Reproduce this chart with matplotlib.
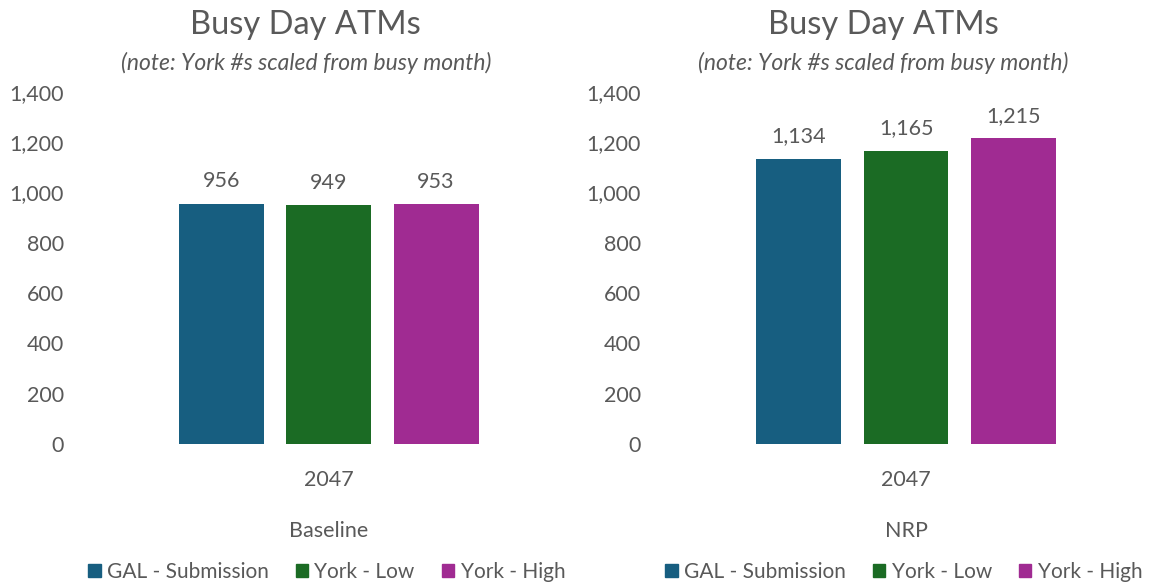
import matplotlib
matplotlib.use("Agg")
import matplotlib.pyplot as plt
from matplotlib.patches import Patch
from matplotlib.ticker import FuncFormatter

plt.rcParams['font.family'] = ['Lato', 'DejaVu Sans']

series = ['GAL - Submission', 'York - Low', 'York - High']
colors = ['#175E80', '#1B6B24', '#A02B92']
panels = ['Baseline', 'NRP']
year = '2047'
values = {
    'Baseline': [956, 949, 953],
    'NRP': [1134, 1165, 1215],
}

grey = '#595959'
fig = plt.figure(figsize=(11.52, 5.85), dpi=100)

lefts = [0.065, 0.566]
for left, panel in zip(lefts, panels):
    ax = fig.add_axes([left, 0.241, 0.441, 0.602])
    offs = [-0.211, 0, 0.211]
    for off, v, c in zip(offs, values[panel], colors):
        ax.bar(off, v, width=0.167, color=c)
        ax.text(off, v + 50, f'{v:,}', ha='center', va='bottom', fontsize=15.5, color=grey)
    ax.set_xlim(-0.5, 0.5)
    ax.set_ylim(0, 1400)
    ax.set_yticks(range(0, 1401, 200))
    ax.yaxis.set_major_formatter(FuncFormatter(lambda x, p: f'{int(x):,}'))
    ax.set_xticks([0])
    ax.set_xticklabels([year])
    ax.tick_params(axis='both', length=0, labelsize=15.5, labelcolor=grey)
    ax.tick_params(axis='x', pad=19)
    ax.tick_params(axis='y', pad=8)
    for s in ax.spines.values():
        s.set_visible(False)
    ax.set_xlabel(panel, fontsize=15.5, color=grey, labelpad=22)
    cx = left + 0.441 / 2
    tx = cx - 0.02
    fig.text(tx, 0.957, 'Busy Day ATMs', ha='center', va='center', fontsize=23.5, color=grey)
    fig.text(tx, 0.893, '(note: York #s scaled from busy month)', ha='center', va='center',
             fontsize=16.5, style='italic', color=grey)
    handles = [Patch(color=c, label=s) for s, c in zip(series, colors)]
    fig.legend(handles=handles, loc='center', bbox_to_anchor=(cx - 0.002, 0.022), ncol=3,
               frameon=False, fontsize=15, labelcolor=grey, handlelength=0.6,
               handleheight=0.6, handletextpad=0.3, columnspacing=1.3)

fig.savefig('out.png', dpi=100)
